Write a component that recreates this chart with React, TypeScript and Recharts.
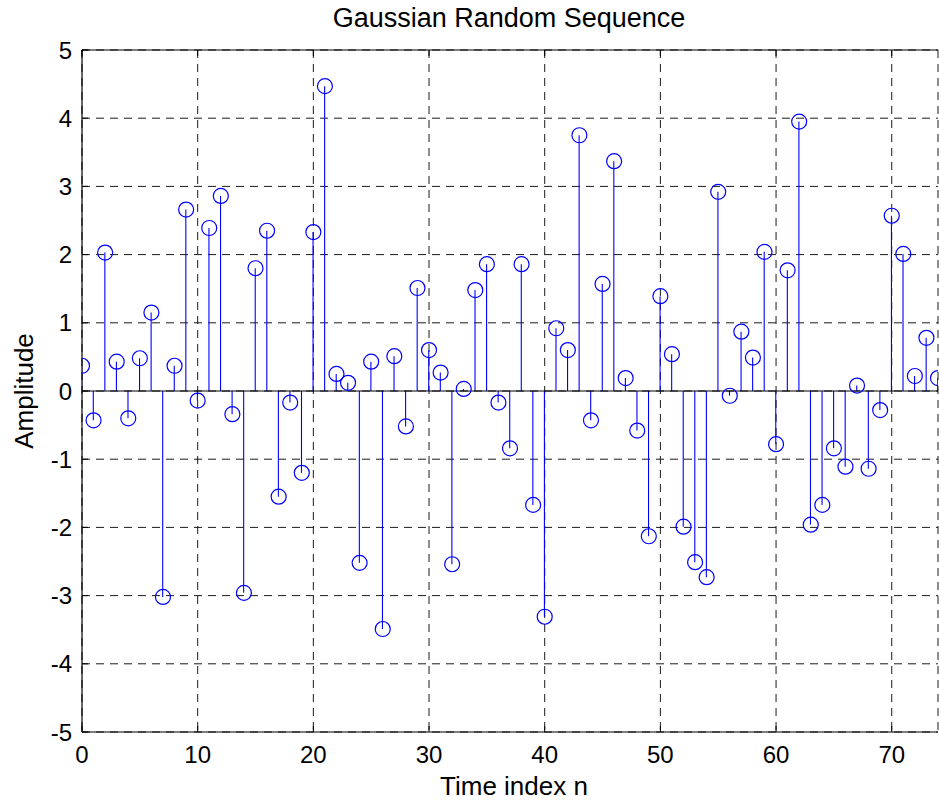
import React from "react";
import {
  ComposedChart,
  Bar,
  Scatter,
  XAxis,
  YAxis,
  CartesianGrid,
  ReferenceLine,
} from "recharts";

// time index n
const timeIndex = [
  0, 1, 2, 3, 4, 5, 6, 7, 8, 9, 10, 11, 12, 13, 14, 15, 16, 17, 18, 19, 20, 21, 22, 23, 24,
  25, 26, 27, 28, 29, 30, 31, 32, 33, 34, 35, 36, 37, 38, 39, 40, 41, 42, 43, 44, 45, 46, 47,
  48, 49, 50, 51, 52, 53, 54, 55, 56, 57, 58, 59, 60, 61, 62, 63, 64, 65, 66, 67, 68, 69, 70,
  71, 72, 73, 74,
];

// amplitude
const amplitude = [
  0.37, -0.43, 2.03, 0.43, -0.4, 0.48, 1.15, -3.02, 0.37, 2.66, -0.14, 2.39, 2.86, -0.34,
  -2.96, 1.8, 2.35, -1.55, -0.17, -1.2, 2.33, 4.47, 0.25, 0.12, -2.52, 0.43, -3.49, 0.51,
  -0.52, 1.51, 0.6, 0.27, -2.54, 0.03, 1.48, 1.86, -0.17, -0.84, 1.86, -1.67, -3.31, 0.92,
  0.6, 3.75, -0.43, 1.57, 3.37, 0.19, -0.58, -2.13, 1.39, 0.54, -1.99, -2.51, -2.73, 2.92,
  -0.07, 0.87, 0.49, 2.04, -0.78, 1.77, 3.95, -1.96, -1.67, -0.84, -1.11, 0.08, -1.14, -0.28,
  2.57, 2.01, 0.22, 0.78, 0.19,
];

const xTicks = [0, 10, 20, 30, 40, 50, 60, 70];
const yTicks = [-5, -4, -3, -2, -1, 0, 1, 2, 3, 4, 5];

const data = timeIndex.map((n, i) => ({ n, v: amplitude[i] }));

const FONT = '"Liberation Sans", Arial, Helvetica, sans-serif';
const BLUE = "#0000ff";

const Stem = (props: any) => {
  const { x, y, width, height } = props;
  if (x == null || y == null) return null;
  const cx = x + width / 2;
  return <line x1={cx} x2={cx} y1={y} y2={y + height} stroke={BLUE} strokeWidth={1.1} />;
};

const Marker = (props: any) => {
  const { cx, cy } = props;
  if (cx == null || cy == null) return null;
  return <circle cx={cx} cy={cy} r={7.5} fill="none" stroke={BLUE} strokeWidth={1.2} />;
};

const blank = () => "";

export default function App() {
  return (
    <div style={{ position: "absolute", left: 0, top: 0, width: 939, height: 801, background: "#fff", fontFamily: FONT }}>
      <div
        style={{
          position: "absolute",
          left: 0,
          top: 5,
          width: 1018,
          textAlign: "center",
          fontSize: 27,
          lineHeight: "27px",
          color: "#000",
        }}
      >
        Gaussian Random Sequence
      </div>
      <ComposedChart
        width={939}
        height={801}
        data={data}
        margin={{ top: 50, right: 1, bottom: 0, left: 0 }}
        barSize={1}
      >
        <CartesianGrid stroke="#1a1a1a" strokeDasharray="8 6" />
        <XAxis
          dataKey="n"
          type="number"
          domain={[0, 74]}
          ticks={xTicks}
          allowDataOverflow
          height={69}
          tickLine={false}
          tickSize={0}
          tickMargin={14}
          axisLine={{ stroke: "#000", strokeWidth: 1.2 }}
          tick={{ fill: "#000", fontSize: 24, fontFamily: FONT }}
          label={{ value: "Time index n", position: "insideBottom", offset: 6, dx: 4, fill: "#000", fontSize: 26, fontFamily: FONT }}
        />
        <XAxis
          xAxisId="top"
          orientation="top"
          mirror
          type="number"
          domain={[0, 74]}
          ticks={xTicks}
          allowDataOverflow
          tickSize={6}
          tickFormatter={blank}
          axisLine={{ stroke: "#000", strokeWidth: 1.2 }}
          tickLine={{ stroke: "#000" }}
        />
        <XAxis
          xAxisId="btm"
          orientation="bottom"
          mirror
          type="number"
          domain={[0, 74]}
          ticks={xTicks}
          allowDataOverflow
          tickSize={6}
          tickFormatter={blank}
          axisLine={false}
          tickLine={{ stroke: "#000" }}
        />
        <YAxis
          type="number"
          domain={[-5, 5]}
          ticks={yTicks}
          allowDataOverflow
          width={82}
          tickLine={false}
          tickSize={0}
          tickMargin={10}
          axisLine={{ stroke: "#000", strokeWidth: 1.2 }}
          tick={{ fill: "#000", fontSize: 24, fontFamily: FONT }}
          label={{
            value: "Amplitude",
            angle: -90,
            position: "insideLeft",
            offset: 24,
            fill: "#000",
            fontSize: 26,
            fontFamily: FONT,
            style: { textAnchor: "middle" },
          }}
        />
        <YAxis
          yAxisId="lft"
          orientation="left"
          mirror
          type="number"
          domain={[-5, 5]}
          ticks={yTicks}
          allowDataOverflow
          tickSize={6}
          tickFormatter={blank}
          axisLine={false}
          tickLine={{ stroke: "#000" }}
        />
        <Bar dataKey="v" shape={Stem} isAnimationActive={false} />
        <Scatter dataKey="v" shape={Marker} isAnimationActive={false} />
        <ReferenceLine y={0} stroke="#000" strokeWidth={1.2} />
      </ComposedChart>
    </div>
  );
}
